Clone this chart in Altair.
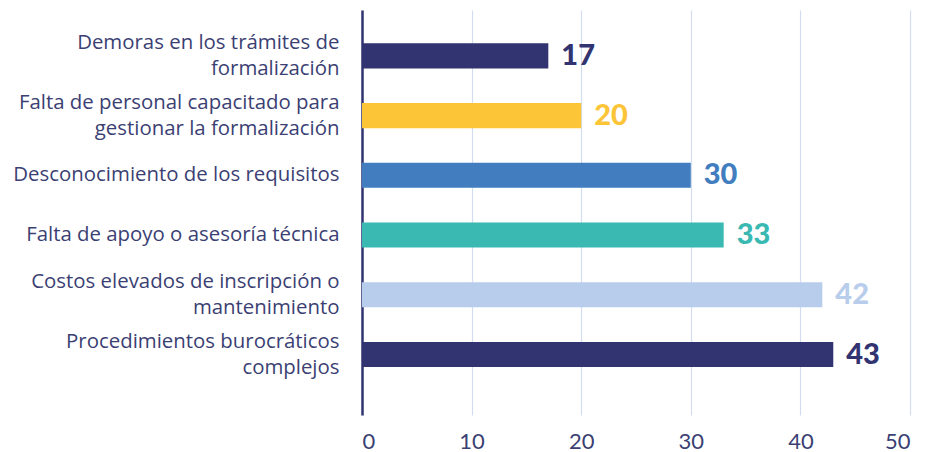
import altair as alt
import pandas as pd

categories = [
    "Demoras en los trámites de|formalización",
    "Falta de personal capacitado para|gestionar la formalización",
    "Desconocimiento de los requisitos",
    "Falta de apoyo o asesoría técnica",
    "Costos elevados de inscripción o|mantenimiento",
    "Procedimientos burocráticos|complejos",
]
values = [17, 20, 30, 33, 42, 43]
colors = ["#313470", "#FBC537", "#417DBF", "#3AB8B2", "#B8CDEB", "#313470"]
x_ticks = [0, 10, 20, 30, 40, 50]

df = pd.DataFrame({"cat": categories, "val": values})

navy = "#3b3f73"
label_font = "Open Sans"
num_font = "Lato"

y = alt.Y(
    "cat:N",
    sort=categories,
    title=None,
    scale=alt.Scale(paddingInner=0.58, paddingOuter=0.68, align=0.41),
    axis=alt.Axis(
        labelExpr="split(datum.label, '|')",
        labelFont=label_font,
        labelFontSize=20.4,
        labelColor=navy,
        labelPadding=23,
        labelLimit=400,
        labelLineHeight=26,
        labelOffset={"condition": {"test": "indexof(datum.value, '|') >= 0", "value": -13}, "value": 0},
        ticks=False,
        domainColor="#313470",
        domainWidth=2.5,
    ),
)
x = alt.X(
    "val:Q",
    title=None,
    scale=alt.Scale(domain=[0, 50]),
    axis=alt.Axis(
        values=x_ticks,
        grid=True,
        gridColor="#d3ddef",
        gridWidth=1.2,
        domain=False,
        ticks=False,
        labelFont=num_font,
        labelFontSize=22,
        labelColor=navy,
        labelPadding=16,
    ),
)
color = alt.Color("cat:N", scale=alt.Scale(domain=categories, range=colors), legend=None)

base = alt.Chart(df).encode(y=y, x=x, color=color)
bars = base.mark_bar()
texts = base.mark_text(align="left", dx=13, fontSize=29, fontWeight=900, font=num_font).encode(
    text="val:Q"
)

chart = (
    (bars + texts)
    .properties(width=548, height=405, padding={"left": 4, "top": 2, "right": 5, "bottom": 5})
    .configure_view(stroke=None)
)

chart.save("out.html", embed_options={"renderer": "svg", "actions": False})
